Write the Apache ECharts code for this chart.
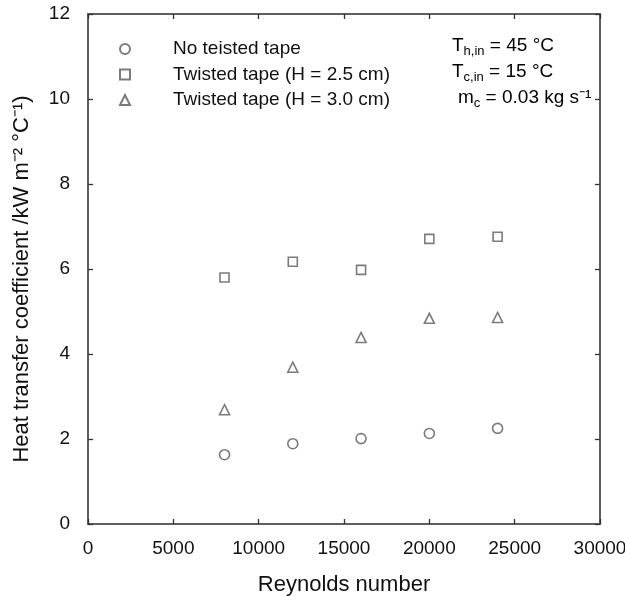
<!DOCTYPE html>
<html>
<head>
<meta charset="utf-8">
<script src="https://cdn.jsdelivr.net/npm/echarts@6/dist/echarts.min.js"></script>
<style>
  html, body { margin: 0; padding: 0; background: #fff; }
  #chart { width: 625px; height: 596px; }
</style>
</head>
<body>
<div id="chart"></div>
<script>
(function () {
	// Reynolds numbers of the measured points
	var reynolds = [8000, 12000, 16000, 20000, 24000];
	// heat transfer coefficient, kW m-2 C-1
	var noTape = [1.63, 1.89, 2.01, 2.13, 2.25];
	var tape25 = [5.80, 6.17, 5.98, 6.71, 6.76];
	var tape30 = [2.69, 3.69, 4.39, 4.84, 4.86];
	var seriesNames = ['No teisted tape', 'Twisted tape (H = 2.5 cm)', 'Twisted tape (H = 3.0 cm)'];
	var xTicks = { min: 0, max: 30000, interval: 5000 };
	var yTicks = { min: 0, max: 12, interval: 2 };

	var axisGray = '#5e5e5e';
	var markGray = '#5a5a5a';
	var font = 'Liberation Sans, Arial, sans-serif';

	function pairs(ys) {
		var out = [];
		for (var i = 0; i < reynolds.length; i++) {
			out.push([reynolds[i], ys[i]]);
		}
		return out;
	}

	function scatter(name, ys, symbol, size) {
		return {
			name: name,
			type: 'scatter',
			symbol: symbol,
			symbolSize: size,
			data: pairs(ys),
			itemStyle: { color: '#fff', borderColor: markGray, borderWidth: 1.6 },
			emphasis: { disabled: true }
		};
	}

	function axisBase(extra) {
		var base = {
			type: 'value',
			splitLine: { show: false },
			axisLine: { show: true, onZero: false, lineStyle: { color: axisGray, width: 2 } },
			axisTick: { show: true, inside: true, length: 5, lineStyle: { color: '#333', width: 1.3 } }
		};
		for (var k in extra) base[k] = extra[k];
		return base;
	}

	// 上下标文字
	var rich = {
		m: { fontSize: 19, fontFamily: font, color: '#111', lineHeight: 24 },
		s: { fontSize: 13, fontFamily: font, color: '#111', lineHeight: 24, verticalAlign: 'bottom' }
	};

	var chart = echarts.init(document.getElementById('chart'));
	chart.setOption({
		backgroundColor: '#fff',
		animation: false,
		grid: { left: 88, top: 14, right: 25, bottom: 72, containLabel: false, outerBoundsMode: 'none' },
		legend: {
			orient: 'vertical',
			left: 114,
			top: 33,
			itemWidth: 10,
			itemHeight: 10,
			itemGap: 3.5,
			data: seriesNames,
			textStyle: { fontSize: 19, fontFamily: font, color: '#111', lineHeight: 22, padding: [0, 0, 0, 38] }
		},
		xAxis: [
			axisBase({
				min: xTicks.min, max: xTicks.max, interval: xTicks.interval,
				name: 'Reynolds number',
				nameLocation: 'middle',
				nameGap: 50,
				nameTextStyle: { fontSize: 22, fontFamily: font, color: '#111' },
				axisLabel: {
					show: true, margin: 15, color: '#111', fontSize: 19, fontFamily: font,
					formatter: function (v) { return String(v); }
				}
			}),
			axisBase({
				position: 'top',
				min: xTicks.min, max: xTicks.max, interval: xTicks.interval,
				axisLabel: { show: false }
			})
		],
		yAxis: [
			axisBase({
				min: yTicks.min, max: yTicks.max, interval: yTicks.interval,
				name: 'Heat transfer coefficient /kW m\u207B\u00B2 \u00B0C\u207B\u00B9)',
				nameLocation: 'middle',
				nameGap: 55,
				nameTextStyle: { fontSize: 22, fontFamily: font, color: '#111', padding: [0, 20, 0, 0] },
				axisLabel: { show: true, margin: 18, color: '#111', fontSize: 19, fontFamily: font }
			}),
			axisBase({
				position: 'right',
				min: yTicks.min, max: yTicks.max, interval: yTicks.interval,
				axisLabel: { show: false }
			})
		],
		graphic: [
			{ type: 'text', left: 452, top: 36, style: { text: '{m|T}{s|h,in}{m| = 45 \u00B0C}', rich: rich } },
			{ type: 'text', left: 452, top: 62, style: { text: '{m|T}{s|c,in}{m| = 15 \u00B0C}', rich: rich } },
			{ type: 'text', left: 458, top: 88, style: { text: '{m|m}{s|c}{m| = 0.03 kg s\u207B\u00B9}', rich: rich } }
		],
		series: [
			scatter(seriesNames[0], noTape, 'circle', 10),
			scatter(seriesNames[1], tape25, 'rect', 9),
			scatter(seriesNames[2], tape30, 'triangle', 10)
		]
	});
})();
</script>
</body>
</html>
